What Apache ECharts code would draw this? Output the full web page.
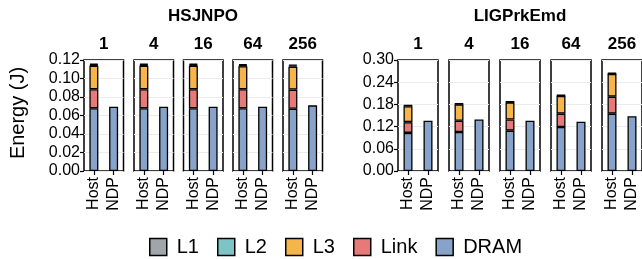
<!DOCTYPE html>
<html>
<head>
<meta charset="utf-8">
<script src="https://cdn.jsdelivr.net/npm/echarts@6/dist/echarts.min.js"></script>
<style>
html, body { margin: 0; padding: 0; background: #fff; }
#chart { width: 642px; height: 259px; }
</style>
</head>
<body>
<div id="chart"></div>
<script>
// facets and categories
const threads = ['1', '4', '16', '64', '256'];
const configs = ['Host', 'NDP'];
const layers = ['L1', 'L2', 'L3', 'Link', 'DRAM'];
const layerColors = {L1: '#A0A5AA', L2: '#7CC4C6', L3: '#F5B54A', Link: '#E57A78', DRAM: '#88A3CA'};

// HSJNPO (J), per thread count
const hsHostDram = [0.0678, 0.0678, 0.0678, 0.0678, 0.0673];
const hsHostLink = [0.0205, 0.0205, 0.0205, 0.0205, 0.0207];
const hsHostL3 = [0.0255, 0.0255, 0.0255, 0.0250, 0.0248];
const hsHostL2 = [0.0010, 0.0010, 0.0010, 0.0010, 0.0010];
const hsHostL1 = [0.0012, 0.0012, 0.0012, 0.0012, 0.0012];
const hsNdpDram = [0.0695, 0.0695, 0.0695, 0.0695, 0.0710];

// LIGPrkEmd (J)
const liHostDram = [0.103, 0.1055, 0.109, 0.119, 0.155];
const liHostLink = [0.029, 0.0305, 0.030, 0.036, 0.046];
const liHostL3 = [0.043, 0.044, 0.046, 0.048, 0.061];
const liHostL2 = [0.0015, 0.0015, 0.0015, 0.0015, 0.0015];
const liHostL1 = [0.0015, 0.0015, 0.0015, 0.0015, 0.0015];
const liNdpDram = [0.136, 0.139, 0.136, 0.133, 0.148];

const yTicksHs = [0, 0.02, 0.04, 0.06, 0.08, 0.10, 0.12];
const yTicksLi = [0, 0.06, 0.12, 0.18, 0.24, 0.30];

const font = 'Liberation Sans, Arial, sans-serif';

const panels = [
    {
        title: 'HSJNPO', center: 203, lefts: [84, 134, 183.5, 233, 283], width: 39.5,
        ticks: yTicksHs,
        host: {DRAM: hsHostDram, Link: hsHostLink, L3: hsHostL3, L2: hsHostL2, L1: hsHostL1},
        ndp: {DRAM: hsNdpDram}
    },
    {
        title: 'LIGPrkEmd', center: 520, lefts: [398, 449, 500, 551, 602], width: 40,
        ticks: yTicksLi,
        host: {DRAM: liHostDram, Link: liHostLink, L3: liHostL3, L2: liHostL2, L1: liHostL1},
        ndp: {DRAM: liNdpDram}
    }
];

const grids = [], xAxes = [], yAxes = [], seriesList = [], graphics = [];
const gridTop = 60, gridHeight = 111;

panels.forEach(function(p) {
    graphics.push({
        type: 'text', x: p.center, y: 16,
        style: {text: p.title, font: 'bold 17px ' + font, fill: '#000', textAlign: 'center', textVerticalAlign: 'middle'}
    });
    threads.forEach(function(t, ti) {
        const gi = grids.length;
        const first = ti === 0;
        const ticks = p.ticks;
        grids.push({left: p.lefts[ti], top: gridTop, width: p.width, height: gridHeight,
            show: true, borderColor: '#000', borderWidth: 1.5, backgroundColor: '#fff'});
        graphics.push({
            type: 'text', x: p.lefts[ti] + p.width / 2, y: 44,
            style: {text: t, font: 'bold 17px ' + font, fill: '#000', textAlign: 'center', textVerticalAlign: 'middle'}
        });
        xAxes.push({
            type: 'category', gridIndex: gi, data: configs,
            axisLine: {show: false},
            axisTick: {show: true, alignWithLabel: true, length: 4, lineStyle: {color: '#000', width: 1.2}},
            axisLabel: {interval: 0, rotate: 90, fontSize: 16, fontFamily: font, color: '#000', margin: 6}
        });
        yAxes.push({
            type: 'value', gridIndex: gi, min: 0, max: ticks[ticks.length - 1],
            interval: ticks[1] - ticks[0],
            axisLine: {show: false},
            axisTick: {show: first, length: 4, lineStyle: {color: '#000', width: 1.2}},
            axisLabel: {show: first, fontSize: 16, fontFamily: font, color: '#000', margin: 4,
                formatter: function(v) { return v.toFixed(2); }},
            splitLine: {show: true, lineStyle: {color: '#ebebeb', width: 1}}
        });
        ['DRAM', 'Link', 'L3', 'L2', 'L1'].forEach(function(layer) {
            const h = p.host[layer] ? p.host[layer][ti] : 0;
            const n = p.ndp[layer] ? p.ndp[layer][ti] : null;
            seriesList.push({
                type: 'bar', name: layer, xAxisIndex: gi, yAxisIndex: gi,
                stack: 'g' + gi, barWidth: 9,
                itemStyle: {color: layerColors[layer], borderColor: '#000', borderWidth: 1.3},
                data: [h, n],
                z: 3
            });
        });
    });
});

graphics.push({
    type: 'text', x: 18, y: 113, rotation: Math.PI / 2,
    style: {text: 'Energy (J)', font: '20px ' + font, fill: '#000', textAlign: 'center', textVerticalAlign: 'middle'}
});

const chart = echarts.init(document.getElementById('chart'), null, {renderer: 'canvas'});
chart.setOption({
    animation: false,
    grid: grids,
    xAxis: xAxes,
    yAxis: yAxes,
    series: seriesList,
    graphic: graphics,
    legend: {
        data: layers.map(function(l) { return {name: l, itemStyle: {color: layerColors[l], borderColor: '#000', borderWidth: 1.5}}; }),
        left: 144, top: 232,
        icon: 'rect', itemWidth: 17, itemHeight: 17, itemGap: 18,
        textStyle: {fontSize: 20, fontFamily: font, color: '#000', padding: [0, 0, 0, 5]},
        selectedMode: false
    }
});
</script>
</body>
</html>
